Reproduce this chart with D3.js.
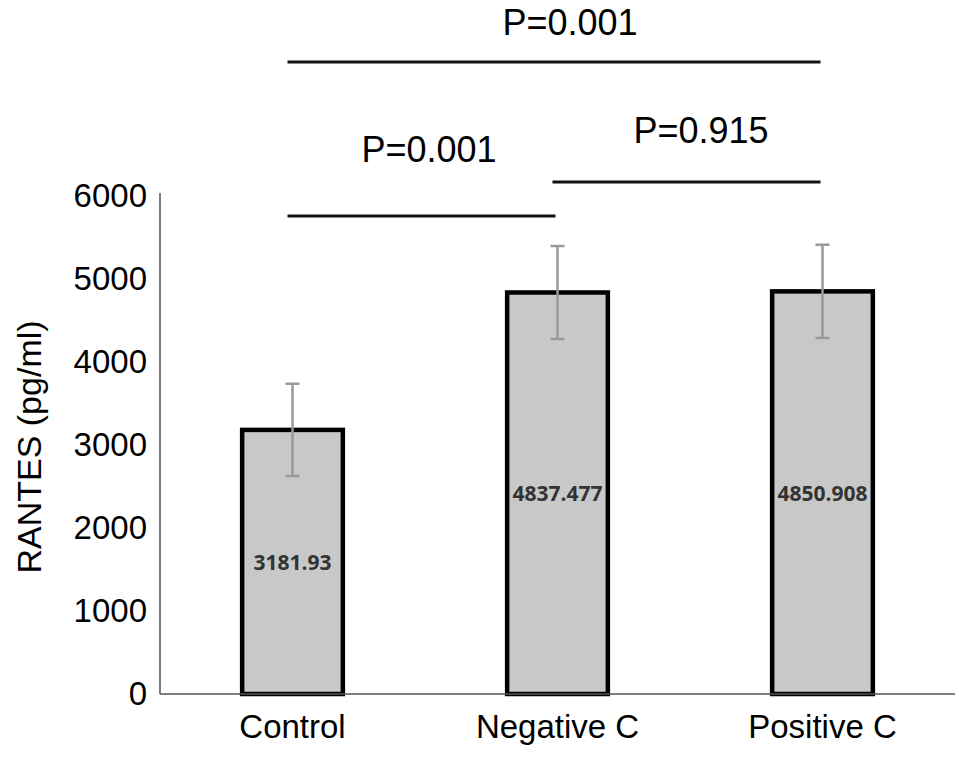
<!DOCTYPE html>
<html>
<head>
<meta charset="utf-8">
<script src="https://cdn.jsdelivr.net/npm/d3@7"></script>
<style>
  body { margin: 0; background: #fff; }
  svg { display: block; }
</style>
</head>
<body>
<div id="vis"></div>
<script>
// chart values
const categories = ["Control", "Negative C", "Positive C"];
const means = [3181.93, 4837.477, 4850.908];
const errors = [556, 560, 562];
const valueLabels = ["3181.93", "4837.477", "4850.908"];
const yTicks = [0, 1000, 2000, 3000, 4000, 5000, 6000];

// significance brackets: from category, to category, level, label
const sigFrom = [0, 1, 0];
const sigTo = [1, 2, 2];
const sigValue = [5760, 6170, 7615];
const sigLabels = ["P=0.001", "P=0.915", "P=0.001"];

const FRAME_WIDTH = 969;
const FRAME_HEIGHT = 762;
const FONT = "'Liberation Sans', Arial, sans-serif";

const svg = d3.select("#vis")
  .append("svg")
    .attr("width", FRAME_WIDTH)
    .attr("height", FRAME_HEIGHT);

const x = d3.scaleBand()
  .domain(categories)
  .range([160, 955])
  .paddingInner(0.62)
  .paddingOuter(0.31);

const y = d3.scaleLinear()
  .domain([0, 6000])
  .range([694, 196]);

// y axis: labels only, plain line
const yAxis = svg.append("g")
  .attr("transform", "translate(160,0)")
  .call(d3.axisLeft(y).tickValues(yTicks).tickFormat(d3.format("d")).tickSize(0).tickPadding(13));
yAxis.select(".domain").remove();
yAxis.selectAll("text")
  .attr("font-family", FONT)
  .attr("font-size", 33)
  .attr("fill", "#000");

svg.append("line")
  .attr("x1", 160).attr("x2", 160)
  .attr("y1", 193).attr("y2", y(0))
  .attr("stroke", "#555")
  .attr("stroke-width", 1.5);

// bars
svg.selectAll(".bar")
  .data(means)
  .enter()
  .append("rect")
    .attr("class", "bar")
    .attr("x", (d, i) => x(categories[i]))
    .attr("y", (d) => y(d))
    .attr("width", x.bandwidth())
    .attr("height", (d) => y(0) - y(d))
    .attr("fill", "#c8c8c8")
    .attr("stroke", "#000")
    .attr("stroke-width", 4.5);

// x axis line
svg.append("line")
  .attr("x1", 160).attr("x2", 955)
  .attr("y1", y(0)).attr("y2", y(0))
  .attr("stroke", "#555")
  .attr("stroke-width", 1.5);

// x labels
const xAxis = svg.append("g")
  .attr("transform", "translate(0," + y(0) + ")")
  .call(d3.axisBottom(x).tickSize(0).tickPadding(21));
xAxis.select(".domain").remove();
xAxis.selectAll("text")
  .attr("font-family", FONT)
  .attr("font-size", 33)
  .attr("fill", "#000");

// error bars
const cx = (i) => x(categories[i]) + x.bandwidth() / 2;
const eb = svg.append("g")
  .attr("stroke", "#999")
  .attr("stroke-width", 2.5);
means.forEach((m, i) => {
  eb.append("line")
    .attr("x1", cx(i)).attr("x2", cx(i))
    .attr("y1", y(m + errors[i])).attr("y2", y(m - errors[i]));
  [m + errors[i], m - errors[i]].forEach((v) => {
    eb.append("line")
      .attr("x1", cx(i) - 7).attr("x2", cx(i) + 7)
      .attr("y1", y(v)).attr("y2", y(v));
  });
});

// value labels in the middle of each bar
svg.selectAll(".vlabel")
  .data(means)
  .enter()
  .append("text")
    .attr("class", "vlabel")
    .attr("x", (d, i) => cx(i))
    .attr("y", (d) => (y(d) + y(0)) / 2 + 8)
    .attr("text-anchor", "middle")
    .attr("font-family", "'Open Sans', sans-serif")
    .attr("font-weight", "bold")
    .attr("font-size", 21)
    .attr("fill", "#333")
    .text((d, i) => valueLabels[i]);

// significance lines and labels
sigLabels.forEach((lab, i) => {
  const x1 = cx(sigFrom[i]) - 5;
  const x2 = cx(sigTo[i]) - 2;
  const ly = y(sigValue[i]);
  svg.append("line")
    .attr("x1", x1).attr("x2", x2)
    .attr("y1", ly).attr("y2", ly)
    .attr("stroke", "#111")
    .attr("stroke-width", 3);
  svg.append("text")
    .attr("x", i === 2 ? 570 : (i === 0 ? 429 : 701))
    .attr("y", i === 2 ? 35 : (i === 0 ? 162 : 143))
    .attr("text-anchor", "middle")
    .attr("font-family", FONT)
    .attr("font-size", 36)
    .attr("fill", "#000")
    .text(lab);
});

// y title
svg.append("text")
  .attr("transform", "translate(41,447) rotate(-90)")
  .attr("text-anchor", "middle")
  .attr("font-family", FONT)
  .attr("font-size", 34)
  .attr("fill", "#000")
  .text("RANTES (pg/ml)");
</script>
</body>
</html>
